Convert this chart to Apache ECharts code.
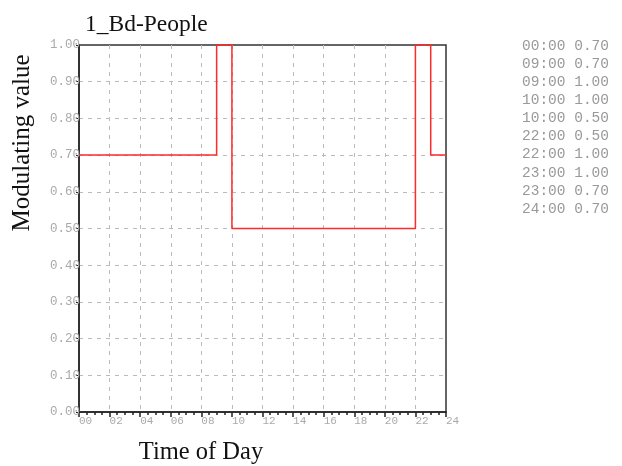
<!DOCTYPE html>
<html>
<head>
<meta charset="utf-8">
<script src="https://cdn.jsdelivr.net/npm/echarts@6/dist/echarts.min.js"></script>
<style>
  html, body { margin: 0; padding: 0; background: #fff; }
  #chart { width: 622px; height: 466px; }
</style>
</head>
<body>
<div id="chart"></div>
<script>
// schedule points (hour of day, modulating value)
var hours = [0, 9, 9, 10, 10, 22, 22, 23, 23, 24];
var values = [0.7, 0.7, 1.0, 1.0, 0.5, 0.5, 1.0, 1.0, 0.7, 0.7];
var titleText = '1_Bd-People';

var chart = echarts.init(document.getElementById('chart'));

// table on the right side
var pad = function (n) { return (n < 10 ? '0' : '') + n; };
var tableLines = hours.map(function (h, i) {
  return pad(h) + ':00 ' + values[i].toFixed(2);
});

var serif = '"Liberation Serif", "DejaVu Serif", serif';
var mono = '"Liberation Mono", "DejaVu Sans Mono", monospace';

var option = {
  animation: false,
  title: [
    {
      text: titleText,
      left: 80,
      top: 8,
      textStyle: { fontFamily: serif, fontSize: 23.5, fontWeight: 'normal', color: '#111' }
    },
    {
      text: tableLines.join('\n'),
      left: 517,
      top: 32,
      textStyle: { fontFamily: mono, fontSize: 14.5, fontWeight: 'normal', color: '#999', lineHeight: 18.1 }
    }
  ],
  graphic: [
    {
      type: 'text',
      x: 22,
      y: 143,
      rotation: Math.PI / 2,
      style: { text: 'Modulating value', font: '25px ' + serif, fill: '#111', align: 'center', verticalAlign: 'middle' }
    },
    {
      type: 'text',
      x: 201,
      y: 453,
      style: { text: 'Time of Day', font: '24.5px ' + serif, fill: '#111', align: 'center', verticalAlign: 'middle' }
    }
  ],
  grid: {
    left: 79,
    right: 176,
    top: 45,
    bottom: 54,
    show: true,
    borderColor: '#333',
    borderWidth: 1.5
  },
  xAxis: {
    type: 'value',
    min: 0,
    max: 24,
    interval: 2,
    axisLine: { lineStyle: { color: '#222', width: 1.5 } },
    axisTick: { show: true, length: 5, lineStyle: { color: '#222', width: 1.5 } },
    minorTick: { show: true, splitNumber: 4, length: 3, lineStyle: { color: '#222', width: 1.5 } },
    axisLabel: {
      formatter: function (v) { return pad(v); },
      align: 'left',
      margin: 4,
      fontFamily: mono,
      fontSize: 11,
      color: '#aaa'
    },
    splitLine: { show: true, showMinLine: false, showMaxLine: false, lineStyle: { color: '#bbb', type: [4, 5], width: 1 } }
  },
  yAxis: {
    type: 'value',
    min: 0,
    max: 1,
    interval: 0.1,
    axisLine: { show: true, lineStyle: { color: '#222', width: 1.5 } },
    axisTick: { show: true, length: 3, lineStyle: { color: '#222' } },
    axisLabel: {
      formatter: function (v) { return v.toFixed(2); },
      margin: -1,
      fontFamily: mono,
      fontSize: 12.5,
      color: '#aaa'
    },
    splitLine: { show: true, showMinLine: false, showMaxLine: false, lineStyle: { color: '#bbb', type: [4, 5], width: 1 } }
  },
  series: [
    {
      type: 'line',
      data: hours.map(function (h, i) { return [h, values[i]]; }),
      symbol: 'none',
      lineStyle: { color: '#ff2a2a', width: 1.5 },
      clip: false
    }
  ]
};

chart.setOption(option);
</script>
</body>
</html>
